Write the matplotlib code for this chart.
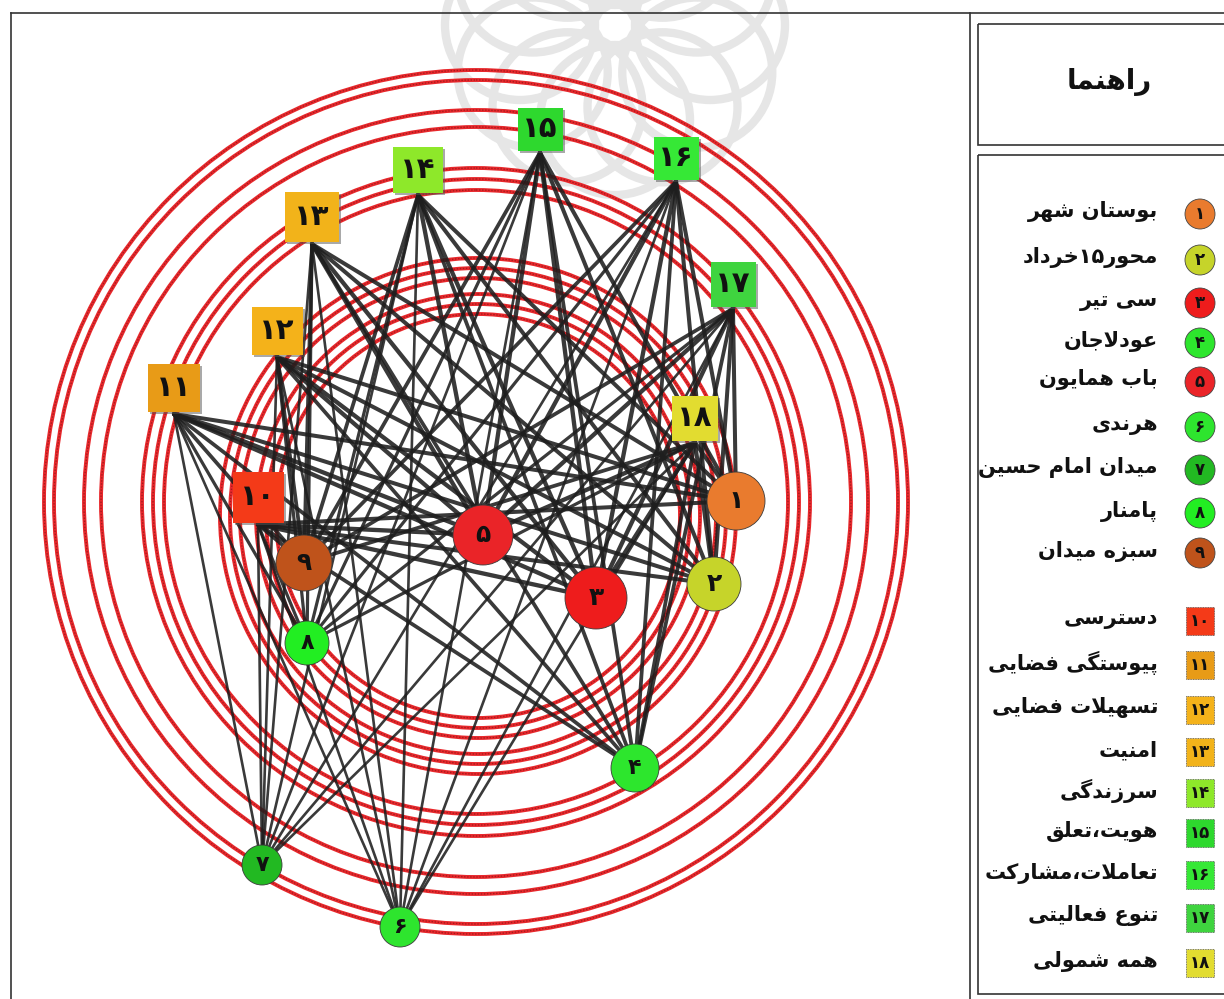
"""Network diagram: places (circles) linked to urban-quality factors (squares)."""

import math
import re
import matplotlib
matplotlib.use("Agg")
import matplotlib.pyplot as plt
from matplotlib.patches import Circle, Rectangle

## Data
place_names = ["بوستان شهر", "محور۱۵خرداد", "سی تیر", "عودلاجان", "باب همایون",
               "هرندی", "میدان امام حسین", "پامنار", "سبزه میدان"]
factor_names = ["دسترسی", "پیوستگی فضایی", "تسهیلات فضایی", "امنیت", "سرزندگی",
                "هویت،تعلق", "تعاملات،مشارکت", "تنوع فعالیتی", "همه شمولی"]
place_ids = ["۱", "۲", "۳", "۴", "۵", "۶", "۷", "۸", "۹"]
factor_ids = ["۱۰", "۱۱", "۱۲", "۱۳", "۱۴", "۱۵", "۱۶", "۱۷", "۱۸"]
legend_title = "راهنما"

# links[f][p] = 1 when factor f is linked to place p
links = [
    [1, 1, 1, 1, 1, 1, 1, 1, 1],
    [1, 1, 1, 1, 1, 1, 1, 1, 1],
    [1, 1, 1, 1, 1, 1, 1, 1, 1],
    [1, 1, 1, 1, 1, 1, 1, 1, 1],
    [1, 1, 1, 1, 1, 1, 1, 1, 1],
    [1, 1, 1, 1, 1, 1, 1, 1, 1],
    [1, 1, 1, 1, 1, 1, 1, 1, 1],
    [1, 1, 1, 1, 1, 1, 1, 1, 1],
    [1, 1, 1, 1, 1, 1, 1, 1, 1],
]

## Layout / style (pixel coordinates)
place_xy = [(736, 501), (714, 584), (596, 598), (635, 768), (483, 535),
            (400, 927), (262, 865), (307, 643), (304, 563)]
place_r = [29, 27, 31, 24, 30, 20, 20, 22, 28]
place_colors = ["#e97b2e", "#c6d42a", "#ee1c1c", "#2de62d", "#ea2428",
                "#2ee52e", "#22b922", "#22ee22", "#bf531b"]
factor_xy = [(258, 497), (174, 388), (277, 331), (312, 217), (418, 170),
             (540, 129), (676, 158), (733, 284), (695, 418)]
factor_wh = [(51, 51), (52, 48), (51, 48), (54, 50), (50, 46),
             (45, 43), (45, 43), (45, 45), (46, 45)]
factor_colors = ["#f43a18", "#e89b17", "#f4b21a", "#f2b31a", "#8ee82a",
                 "#2ed82e", "#36e836", "#3fd43f", "#e2dc30"]
edge_lw = [2.9, 2.9, 3.1, 2.7, 3.1, 1.9, 1.9, 2.3, 2.7]

RING_RED = "#e8282c"
RING_DARK = "#701212"

## Minimal Persian shaping (presentation forms) for matplotlib
FORMS = {
    'ا': ('\uFE8D', '\uFE8E', None, None), 'ب': ('\uFE8F', '\uFE90', '\uFE91', '\uFE92'),
    'پ': ('\uFB56', '\uFB57', '\uFB58', '\uFB59'), 'ت': ('\uFE95', '\uFE96', '\uFE97', '\uFE98'),
    'ج': ('\uFE9D', '\uFE9E', '\uFE9F', '\uFEA0'), 'ح': ('\uFEA1', '\uFEA2', '\uFEA3', '\uFEA4'),
    'خ': ('\uFEA5', '\uFEA6', '\uFEA7', '\uFEA8'), 'د': ('\uFEA9', '\uFEAA', None, None),
    'ر': ('\uFEAD', '\uFEAE', None, None), 'ز': ('\uFEAF', '\uFEB0', None, None),
    'س': ('\uFEB1', '\uFEB2', '\uFEB3', '\uFEB4'), 'ش': ('\uFEB5', '\uFEB6', '\uFEB7', '\uFEB8'),
    'ض': ('\uFEBD', '\uFEBE', '\uFEBF', '\uFEC0'), 'ع': ('\uFEC9', '\uFECA', '\uFECB', '\uFECC'),
    'ف': ('\uFED1', '\uFED2', '\uFED3', '\uFED4'), 'ق': ('\uFED5', '\uFED6', '\uFED7', '\uFED8'),
    'ک': ('\uFB8E', '\uFB8F', '\uFB90', '\uFB91'), 'گ': ('\uFB92', '\uFB93', '\uFB94', '\uFB95'),
    'ل': ('\uFEDD', '\uFEDE', '\uFEDF', '\uFEE0'), 'م': ('\uFEE1', '\uFEE2', '\uFEE3', '\uFEE4'),
    'ن': ('\uFEE5', '\uFEE6', '\uFEE7', '\uFEE8'), 'ه': ('\uFEE9', '\uFEEA', '\uFEEB', '\uFEEC'),
    'و': ('\uFEED', '\uFEEE', None, None), 'ی': ('\uFBFC', '\uFBFD', '\uFBFE', '\uFBFF'),
}


def shape(text):
    out = []
    i = 0
    n = len(text)
    while i < n:
        c = text[i]
        if c not in FORMS:
            out.append(c)
            i += 1
            continue
        prev = text[i - 1] if i > 0 else ''
        joins_prev = prev in FORMS and FORMS[prev][2] is not None
        if c == 'ل' and i + 1 < n and text[i + 1] == 'ا':
            out.append('\uFEFC' if joins_prev else '\uFEFB')
            i += 2
            continue
        nxt = text[i + 1] if i + 1 < n else ''
        joins_next = FORMS[c][2] is not None and nxt in FORMS
        iso, fin, ini, med = FORMS[c]
        if joins_prev and joins_next:
            out.append(med)
        elif joins_prev:
            out.append(fin)
        elif joins_next:
            out.append(ini)
        else:
            out.append(iso)
        i += 1
    s = ''.join(out)[::-1]
    return re.sub('[۰-۹0-9]+', lambda m: m.group(0)[::-1], s)


plt.rcParams['font.family'] = ['DejaVu Sans']

fig = plt.figure(figsize=(12.24, 9.99), dpi=100)
ax = fig.add_axes([0, 0, 1, 1])
ax.set_xlim(0, 1224)
ax.set_ylim(999, 0)
ax.axis('off')

# faint watermark rosette (scan background)
for k in range(12):
    a = 2 * math.pi * k / 12
    ax.add_patch(Circle((615 + 95 * math.cos(a), 25 + 95 * math.sin(a)), 75,
                        fill=False, ec="#e6e6e6", lw=6, zorder=0))

# concentric red rings
outer_radii = [432, 422, 392, 375, 334, 323, 312]
inner_radii = [258, 248, 238, 222, 212, 202]
for c, radii in [((476, 502), outer_radii), ((478, 516), inner_radii)]:
    for r in radii:
        ax.add_patch(Circle(c, r, fill=False, ec=RING_RED, lw=2.8, zorder=1))
        ax.add_patch(Circle(c, r, fill=False, ec=RING_DARK, lw=1.0,
                            ls=(0, (1, 1.2)), alpha=0.55, zorder=1))

# edges
for f, row in enumerate(links):
    fx, fy = factor_xy[f]
    fy = fy + factor_wh[f][1] / 2 + 2
    for p, on in enumerate(row):
        if on:
            px, py = place_xy[p]
            ax.plot([fx, px], [fy, py], color="#1e1e1e", lw=edge_lw[p],
                    alpha=0.88, solid_capstyle='round', zorder=2)

# factor squares
for f in range(len(factor_names)):
    (x, y), (w, h) = factor_xy[f], factor_wh[f]
    ax.add_patch(Rectangle((x - w / 2 + 2, y - h / 2 + 2), w, h, fc="#555555",
                           ec='none', alpha=0.5, zorder=3))
    ax.add_patch(Rectangle((x - w / 2, y - h / 2), w, h, fc=factor_colors[f],
                           ec='none', zorder=4))
    ax.text(x, y, factor_ids[f], ha='center', va='center', fontsize=21,
            fontweight='bold', color='#111111', zorder=5)

# place circles
for p in range(len(place_names)):
    x, y = place_xy[p]
    ax.add_patch(Circle((x, y), place_r[p], fc=place_colors[p], ec='#3a3a3a',
                        lw=0.6, zorder=4))
    ax.text(x, y, place_ids[p], ha='center', va='center',
            fontsize=18 if place_r[p] > 25 else 16, fontweight='bold',
            color='#111111', zorder=5)

# frames
frame = dict(color='#333333', lw=1.2, zorder=6)
ax.plot([11, 1224], [13, 13], **frame)
ax.plot([11, 11], [13, 999], **frame)
ax.plot([970, 970], [13, 999], **frame)
ax.add_patch(Rectangle((978, 24), 250, 121, fill=False, ec='#333333', lw=1.2, zorder=6))
ax.add_patch(Rectangle((978, 155), 250, 839, fill=False, ec='#333333', lw=1.2, zorder=6))

# legend
ax.text(1152, 82, shape(legend_title), ha='right', va='center', fontsize=20,
        fontweight='bold', color='#111111')
place_leg_y = [214, 260, 303, 343, 382, 427, 470, 513, 553]
factor_leg_y = [621, 665, 710, 752, 793, 833, 875, 918, 963]
for p in range(len(place_names)):
    y = place_leg_y[p]
    ax.add_patch(Circle((1200, y), 15, fc=place_colors[p], ec='#444444', lw=0.6, zorder=4))
    ax.text(1200, y, place_ids[p], ha='center', va='center', fontsize=12,
            fontweight='bold', color='#111111', zorder=5)
    ax.text(1158, y - 2, shape(place_names[p]), ha='right', va='center',
            fontsize=15, fontweight='bold', color='#111111')
for f in range(len(factor_names)):
    y = factor_leg_y[f]
    ax.add_patch(Rectangle((1186, y - 14), 28, 28, fc=factor_colors[f], ec='#555555',
                           lw=0.6, ls=(0, (1, 1)), zorder=4))
    ax.text(1200, y, factor_ids[f], ha='center', va='center', fontsize=12,
            fontweight='bold', color='#111111', zorder=5)
    ax.text(1158, y - 2, shape(factor_names[f]), ha='right', va='center',
            fontsize=15, fontweight='bold', color='#111111')

fig.savefig("out.png", dpi=100)
